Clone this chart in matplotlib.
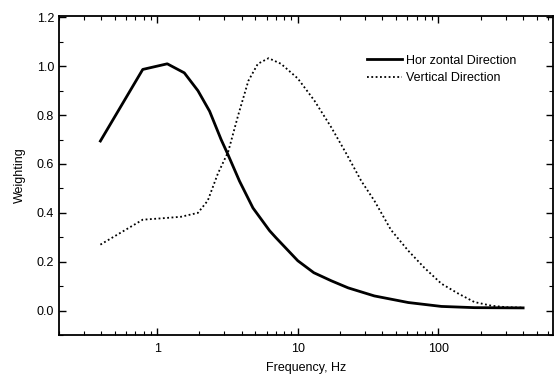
import matplotlib.pyplot as plt
from matplotlib.ticker import LogLocator, FixedLocator, NullFormatter

plt.rcParams['font.family'] = ['Liberation Sans', 'DejaVu Sans']

# horizontal direction weighting
hor_freq = [0.395, 0.79, 1.18, 1.56, 1.95, 2.36, 2.85, 3.18, 3.85, 4.8, 6.3, 7.0, 10, 13,
            17.3, 22.8, 35, 61, 105, 180, 400]
hor_w = [0.694, 0.987, 1.01, 0.973, 0.90, 0.816, 0.70, 0.64, 0.53, 0.42, 0.327, 0.298, 0.204,
         0.155, 0.122, 0.093, 0.06, 0.033, 0.017, 0.012, 0.011]

# vertical direction weighting
ver_freq = [0.395, 0.79, 1.1, 1.48, 1.95, 2.29, 2.7, 3.2, 3.77, 4.45, 5.2, 6.2, 7.6, 10, 13.1,
            17.3, 22, 28.3, 35, 46, 61, 79.5, 105, 138, 180, 238, 300, 400]
ver_w = [0.27, 0.372, 0.378, 0.384, 0.40, 0.45, 0.56, 0.65, 0.80, 0.94, 1.01, 1.033, 1.01, 0.95,
         0.86, 0.75, 0.645, 0.53, 0.45, 0.33, 0.245, 0.175, 0.11, 0.07, 0.035, 0.02, 0.014, 0.012]

fig = plt.figure(figsize=(5.55, 3.76), dpi=100)
ax = fig.add_axes([0.106, 0.109, 0.890, 0.848])

ax.plot(hor_freq, hor_w, color='black', linewidth=2.0, label='Hor zontal Direction')
ax.plot(ver_freq, ver_w, color='black', linewidth=1.3, linestyle=(0, (1, 1.4)),
        label='Vertical Direction')

ax.set_xscale('log')
ax.set_xlim(0.2, 650)
ax.set_ylim(-0.1, 1.205)
ax.set_yticks([0.0, 0.2, 0.4, 0.6, 0.8, 1.0, 1.2])
ax.yaxis.set_minor_locator(FixedLocator([-0.1, 0.1, 0.3, 0.5, 0.7, 0.9, 1.1]))
ax.set_xticks([1, 10, 100])
ax.set_xticklabels(['1', '10', '100'])
ax.xaxis.set_minor_locator(LogLocator(base=10, subs=range(2, 10)))
ax.xaxis.set_minor_formatter(NullFormatter())

ax.tick_params(which='both', direction='in', top=True, right=True, labelsize=9)
ax.tick_params(which='major', length=5, width=1)
ax.tick_params(which='minor', length=3, width=0.8)
ax.tick_params(axis='x', which='major', pad=6)
for s in ax.spines.values():
    s.set_linewidth(1.3)

ax.set_xlabel('Frequency, Hz', fontsize=9, labelpad=5)
ax.set_ylabel('Weighting', fontsize=9, labelpad=8)

ax.legend(loc='upper left', bbox_to_anchor=(0.602, 0.915), frameon=False, fontsize=9,
          handlelength=2.8, handletextpad=0.3, labelspacing=0.45)

fig.savefig('out.png', dpi=100)
